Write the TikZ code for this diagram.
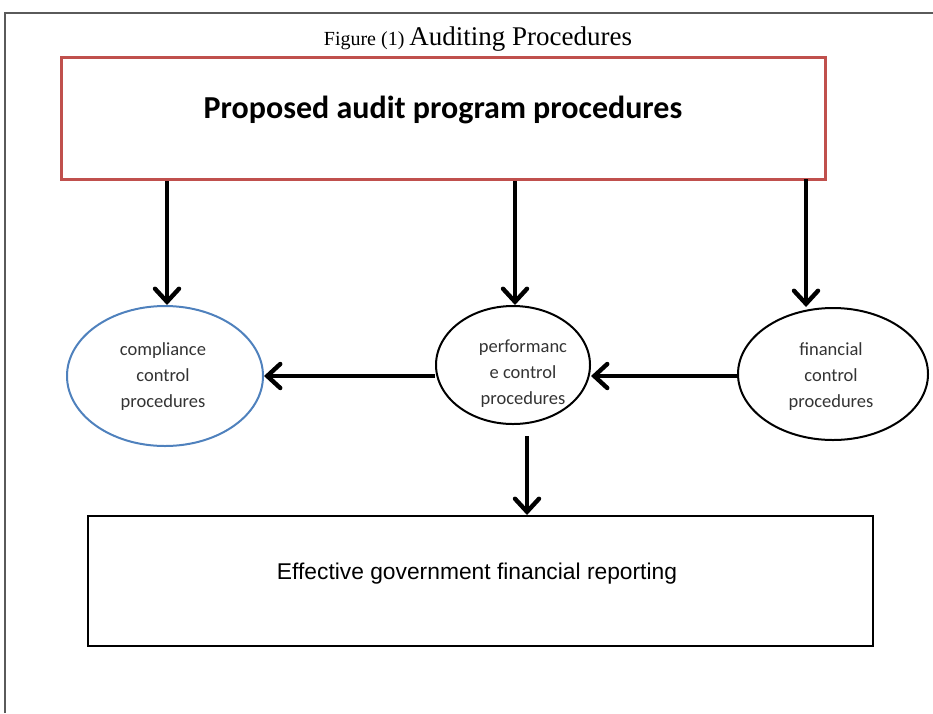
\documentclass[tikz,border=0pt]{standalone}
\usepackage{fontspec}
\setmainfont{Liberation Serif}
\newfontfamily\calibri{Carlito}
\newfontfamily\arialf{Liberation Sans}
\usetikzlibrary{shapes.geometric,arrows.meta}
\definecolor{boxred}{HTML}{C0504D}
\definecolor{ellblue}{HTML}{4F81BD}
\definecolor{framegray}{HTML}{5A5A5A}
\begin{document}
\begin{tikzpicture}[x=1pt,y=-1pt,
  conn/.style={line width=4.4pt,-{Straight Barb[length=13pt,width=24pt,line width=4.4pt,line cap=round]}},
  ell/.style={ellipse,draw,line width=2pt,inner sep=0pt},
  elltxt/.style={align=center,inner sep=0pt,font=\calibri\fontsize{18.5}{26}\selectfont,text=black!80},
]
\useasboundingbox (0,0) rectangle (933,713);
\draw[framegray,line width=1.2pt] (5,713) -- (5,13) -- (933,13);
\node (title) at (478,39) {\fontsize{20}{22}\selectfont Figure (1) \fontsize{27}{28}\selectfont Auditing Procedures};
\node[draw=boxred,line width=3pt,minimum width=764pt,minimum height=122pt,inner sep=0pt] (prop) at (443,118) {};
\node[font=\calibri\bfseries\fontsize{32}{34}\selectfont] (proptxt) at (443,110) {Proposed audit program procedures};
\node[ell,draw=ellblue,minimum width=196pt,minimum height=140pt] (comp) at (165,376) {};
\node[elltxt] (comptxt) at (163,377) {compliance\\control\\procedures};
\node[ell,minimum width=154pt,minimum height=118pt] (perf) at (513,365) {};
\node[elltxt] (perftxt) at (523,374) {performanc\\e control\\procedures};
\node[ell,minimum width=190pt,minimum height=132pt] (fin) at (833,374) {};
\node[elltxt] (fintxt) at (831,377) {financial\\control\\procedures};
\node[draw,line width=2pt,minimum width=785pt,minimum height=130pt,inner sep=0pt] (eff) at (480.5,581) {};
\node[font=\arialf\fontsize{22.8}{26}\selectfont] (efftxt) at (477,574) {Effective government financial reporting};
\coordinate (a1) at (167,181);
\coordinate (a2) at (515,181);
\coordinate (a3) at (806,179);
\draw[conn] (a1) -- (comp.north -| a1);
\draw[conn] (a2) -- (perf.north -| a2);
\draw[conn] (a3) -- (a3 |- fin.north);
\draw[conn] (perf.west |- 0,376) -- (comp.east |- 0,376);
\draw[conn] (fin.west |- 0,376) -- (perf.east |- 0,376);
\coordinate (a4) at (527,436);
\draw[conn] (a4) -- (eff.north -| a4);
\end{tikzpicture}
\end{document}
